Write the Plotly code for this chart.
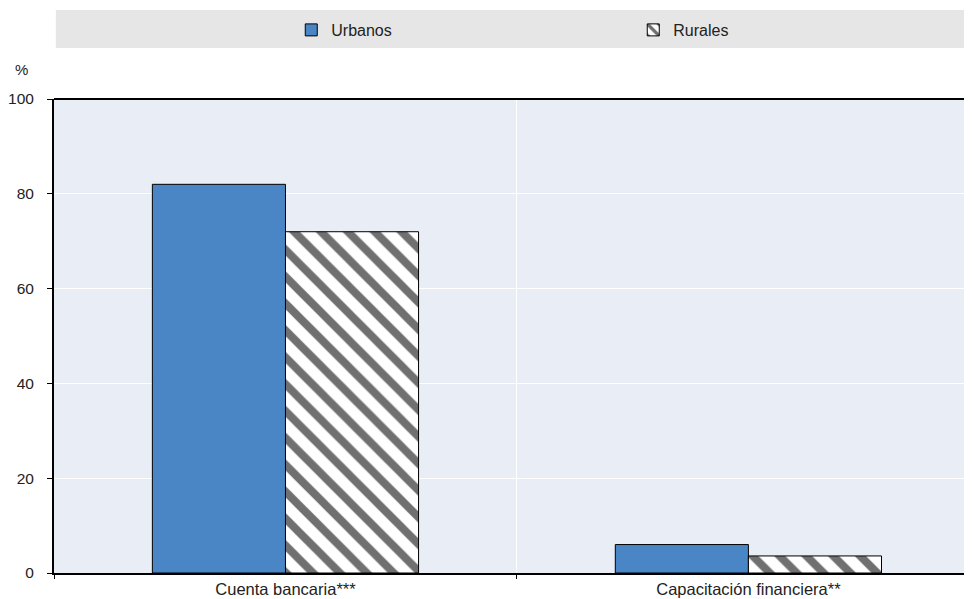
import plotly.graph_objects as go

categories = ["Cuenta bancaria***", "Capacitación financiera**"]
urbanos = [82, 6]
rurales = [72, 3.6]
y_ticks = [0, 20, 40, 60, 80, 100]

FONT = "Liberation Sans, Arial, sans-serif"

fig = go.Figure()
fig.add_trace(go.Bar(
    x=categories, y=urbanos, name="Urbanos",
    marker=dict(color="#4a86c5", line=dict(color="#000000", width=1)),
))
fig.add_trace(go.Bar(
    x=categories, y=rurales, name="Rurales",
    marker=dict(color="#ffffff", line=dict(color="#000000", width=1),
                pattern=dict(shape="\\", fgcolor="#707070", bgcolor="#ffffff",
                             fgopacity=1, size=19, solidity=0.42)),
))

# The page body has an 8px margin, so the figure is sized/offset to compensate.
fig.update_layout(
    width=964, height=591,
    margin=dict(l=46, r=0, t=91, b=26, autoexpand=False),
    paper_bgcolor="#ffffff",
    plot_bgcolor="#e9edf6",
    barmode="group", bargap=0.425, bargroupgap=0,
    font=dict(family=FONT, size=16, color="#222222"),
    showlegend=True,
    legend=dict(orientation="h", x=0.631, xanchor="center", y=1.1456, yref="paper",
                yanchor="middle", bgcolor="rgba(0,0,0,0)",
                entrywidth=297, font=dict(size=16, family=FONT),
                traceorder="normal"),
    xaxis=dict(
        type="category", range=[-0.5, 1.483], tickson="boundaries",
        showgrid=True, gridcolor="#ffffff", gridwidth=1,
        showline=True, linecolor="#000000", linewidth=2,
        ticks="outside", ticklen=4, tickcolor="#000000",
        tickfont=dict(size=16.5, family=FONT),
        automargin=False, mirror=False,
    ),
    yaxis=dict(
        range=[0, 100], tickvals=y_ticks,
        showgrid=True, gridcolor="#ffffff", gridwidth=1,
        showline=True, linecolor="#000000", linewidth=2,
        ticks="outside", ticklen=5, tickcolor="#000000",
        ticklabelstandoff=10,
        tickfont=dict(size=15.5, family=FONT),
        automargin=False, zeroline=False,
    ),
    shapes=[
        dict(type="rect", xref="paper", yref="paper", x0=0.002, x1=1.0,
             y0=1.1076, y1=1.1878, fillcolor="#e6e6e6", line=dict(width=0), layer="below"),
        dict(type="line", xref="paper", yref="paper", x0=0, x1=1, y0=1, y1=1,
             line=dict(color="#000000", width=2)),
    ],
    annotations=[
        dict(text="%", xref="paper", yref="paper", x=-0.0349, y=1.063, xanchor="center",
             yanchor="middle", showarrow=False, font=dict(size=15, family=FONT)),
    ],
)

fig.write_html("out.html")
